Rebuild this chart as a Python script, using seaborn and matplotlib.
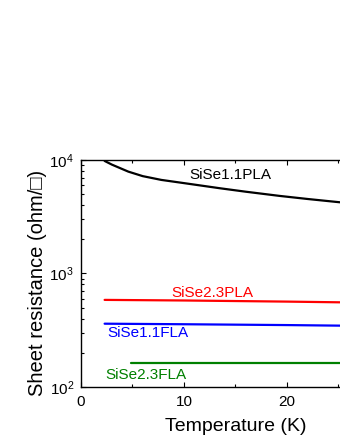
import matplotlib
matplotlib.use('Agg')
import matplotlib.pyplot as plt
import seaborn as sns
import numpy as np
import pandas as pd
from matplotlib.ticker import FixedLocator, MultipleLocator, LogLocator, NullFormatter

# data
t_pla11 = [2.3, 3.0, 4.6, 6.0, 7.8, 10.0, 13.5, 16.0, 19.3, 22.0, 25.1, 27.0]
r_pla11 = [9800, 9100, 7890, 7200, 6670, 6250, 5630, 5250, 4820, 4530, 4240, 4100]
t_pla23 = [2.3, 10.0, 20.0, 25.1, 27.0]
r_pla23 = [585, 578, 565, 557, 555]
t_fla11 = [2.3, 10.0, 20.0, 25.1, 27.0]
r_fla11 = [361, 357, 351, 347, 346]
t_fla23 = [4.85, 10.0, 20.0, 25.1, 27.0]
r_fla23 = [164, 164, 164, 164, 164]

series = ["SiSe1.1PLA", "SiSe2.3PLA", "SiSe1.1FLA", "SiSe2.3FLA"]
colors = ["black", "red", "blue", "green"]
label_pos = [(14.5, 7380), (12.8, 677), (6.5, 297), (6.3, 128)]
x_ticks = [0, 10, 20]

df = pd.concat([
    pd.DataFrame({"T": t, "R": r, "sample": s})
    for t, r, s in zip([t_pla11, t_pla23, t_fla11, t_fla23],
                       [r_pla11, r_pla23, r_fla11, r_fla23], series)
])

sns.set_style("ticks")
plt.rcParams['font.family'] = ['Liberation Sans', 'DejaVu Sans']
plt.rcParams['mathtext.fontset'] = 'custom'
plt.rcParams['mathtext.rm'] = 'Liberation Sans'
plt.rcParams['text.color'] = 'black'
plt.rcParams['axes.labelcolor'] = 'black'
plt.rcParams['xtick.labelcolor'] = 'black'
plt.rcParams['ytick.labelcolor'] = 'black'

fig = plt.figure(figsize=(3.4, 4.4), dpi=100)
ax = fig.add_axes([0.238, 0.1205, 0.909, 0.516])

sns.lineplot(data=df, x="T", y="R", hue="sample", palette=colors,
             hue_order=series, legend=False, linewidth=1.6, ax=ax)

for s, c, (x, y) in zip(series, colors, label_pos):
    ax.text(x, y, s, color=c, fontsize=11, ha="center", va="center")

ax.set_yscale("log")
ax.set_ylim(100, 10000)
ax.set_xlim(0, 30)
ax.xaxis.set_major_locator(FixedLocator(x_ticks))
ax.xaxis.set_minor_locator(MultipleLocator(5))
ax.yaxis.set_major_locator(LogLocator(base=10))
ax.yaxis.set_minor_locator(LogLocator(base=10, subs=np.arange(2, 10), numticks=20))
ax.yaxis.set_minor_formatter(NullFormatter())
ax.tick_params(which="both", direction="in", top=True, right=True,
               labelsize=11, color="black", labelcolor="black", width=0.8)
ax.tick_params(which="major", length=3.5)
ax.tick_params(which="minor", length=2.2)
ax.tick_params(axis="x", which="major", pad=6)
ax.tick_params(axis="y", which="major", pad=5)
for sp in ax.spines.values():
    sp.set_color("black")
    sp.set_linewidth(1.0)

ax.set_xlabel("Temperature (K)", fontsize=14, labelpad=6, color="black")
ax.set_ylabel("Sheet resistance (ohm/\u25a1)", fontsize=14.5, labelpad=2, color="black")
ax.yaxis.set_label_coords(-0.11, 0.46)

plt.savefig("out.png", dpi=100)
plt.close()
